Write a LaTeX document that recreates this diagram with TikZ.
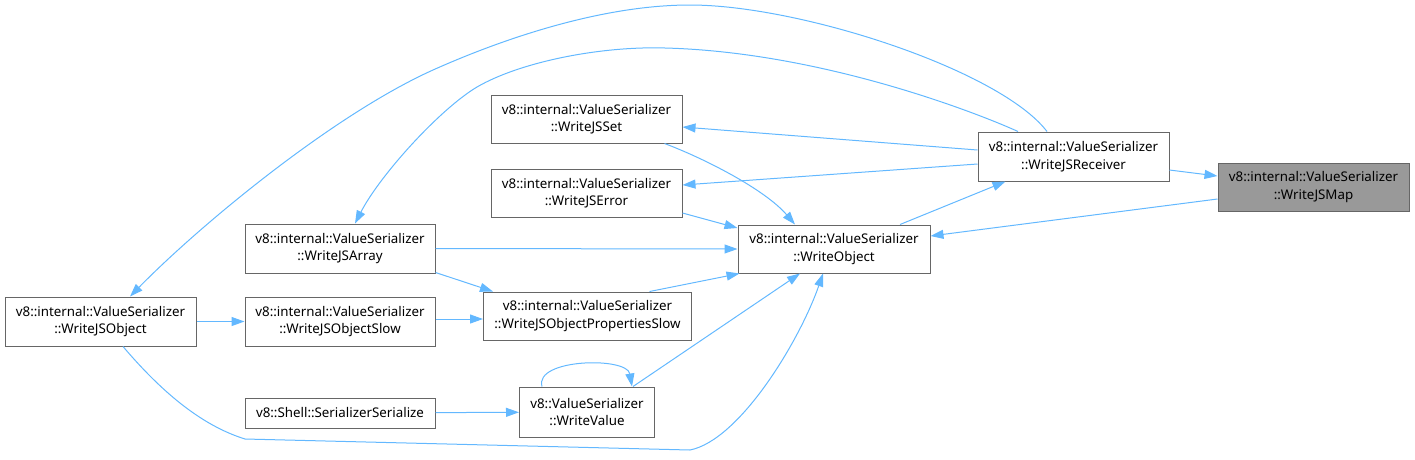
\documentclass[tikz,border=0pt]{standalone}
\usepackage{fontspec}
\setmainfont{Noto Sans}
\usetikzlibrary{arrows.meta}
\definecolor{edgeblue}{HTML}{63B8FF}
\definecolor{boxgrey}{HTML}{666666}
\definecolor{mapfill}{HTML}{999999}
\begin{document}
\begin{tikzpicture}[x=1pt,y=-1pt,
  fn/.style={draw=boxgrey,line width=1pt,fill=white,rectangle,inner sep=0pt,
    align=center,font=\fontsize{13.33}{17.5}\selectfont,text=black},
  edge/.style={draw=edgeblue,line width=1pt,-{Triangle[length=13pt,width=9pt]}},
]
\useasboundingbox (0,0) rectangle (1415,459);

\node[fn,fill=mapfill,minimum width=191pt,minimum height=48pt] (map) at (1313.5,187) {v8::internal::ValueSerializer\\::WriteJSMap};
\node[fn,minimum width=191pt,minimum height=49pt] (recv) at (1073.5,156.5) {v8::internal::ValueSerializer\\::WriteJSReceiver};
\node[fn,minimum width=192pt,minimum height=48pt] (wobj) at (834,249) {v8::internal::ValueSerializer\\::WriteObject};
\node[fn,minimum width=191pt,minimum height=48pt] (jsset) at (586.5,119) {v8::internal::ValueSerializer\\::WriteJSSet};
\node[fn,minimum width=191pt,minimum height=48pt] (jserr) at (586.5,193) {v8::internal::ValueSerializer\\::WriteJSError};
\node[fn,minimum width=190pt,minimum height=49pt] (jsarr) at (340,248.5) {v8::internal::ValueSerializer\\::WriteJSArray};
\node[fn,minimum width=191pt,minimum height=49pt] (jsobj) at (100.5,321.5) {v8::internal::ValueSerializer\\::WriteJSObject};
\node[fn,minimum width=190pt,minimum height=49pt] (jsobjslow) at (340,321.5) {v8::internal::ValueSerializer\\::WriteJSObjectSlow};
\node[fn,minimum width=208pt,minimum height=48pt] (props) at (587.5,316) {v8::internal::ValueSerializer\\::WriteJSObjectPropertiesSlow};
\node[fn,minimum width=190pt,minimum height=30pt] (serser) at (340,413) {v8::Shell::SerializerSerialize};
\node[fn,minimum width=135pt,minimum height=50pt] (wval) at (587,412) {v8::ValueSerializer\\::WriteValue};

% straight edges
\draw[edge] ([yshift=-13.5pt]recv.east) -- ([yshift=11pt]map.west);
\draw[edge] ([yshift=-12pt]map.west) -- ([yshift=13pt]wobj.east);
\draw[edge] ([xshift=66pt]wobj.north) -- ([xshift=-68pt]recv.south);
\draw[edge] ([yshift=6.5pt]recv.west) -- ([yshift=-8pt]jsset.east);
\draw[edge] ([yshift=-7.5pt]recv.west) -- ([yshift=8pt]jserr.east);
\draw[edge] ([yshift=-20pt]jserr.east) -- ([yshift=21pt]wobj.west);
\draw[edge] (jsarr.east) -- (wobj.west);
\draw[edge] ([yshift=1pt]jsarr.south east) -- ([xshift=-94.5pt]props.north);
\draw[edge] ([xshift=62pt]props.north) -- ([xshift=2pt]wobj.south west);
\draw[edge] ([yshift=2.5pt]jsobjslow.east) -- ([yshift=-3pt]props.west);
\draw[edge] (jsobj) -- (jsobjslow);
\draw[edge] (serser) -- (wval);
\draw[edge] ([xshift=46pt]wval.north) -- ([xshift=-34pt]wobj.south);

% curved edges
\draw[edge] ([xshift=78pt]jsset.south) .. controls +(40,15) and +(-30,-35) .. ([xshift=-39pt]wobj.north);
\draw[edge] ([xshift=-45pt]wval.north) .. controls +(-8,-28) and +(-5,-30) .. ([xshift=45pt]wval.north);
\draw[edge] ([xshift=22.5pt]jsobj.south) .. controls (160,390) and (200,425) .. (245,439)
  -- (690,450) .. controls (740,440) and (800,340) .. ([xshift=-11pt]wobj.south);
\draw[edge] ([xshift=-26.5pt]recv.north) .. controls (1000,70) and (800,5) .. (690,5)
  .. controls (600,5) and (500,40) .. (433,70)
  .. controls (333,115) and (200,225) .. ([xshift=29.5pt]jsobj.north);
\draw[edge] ([xshift=-55.5pt]recv.north) .. controls (975,112) and (820,52) .. (665,48)
  .. controls (600,46) and (520,62) .. (477,87)
  .. controls (440,109) and (380,175) .. ([xshift=15pt]jsarr.north);
\end{tikzpicture}
\end{document}
